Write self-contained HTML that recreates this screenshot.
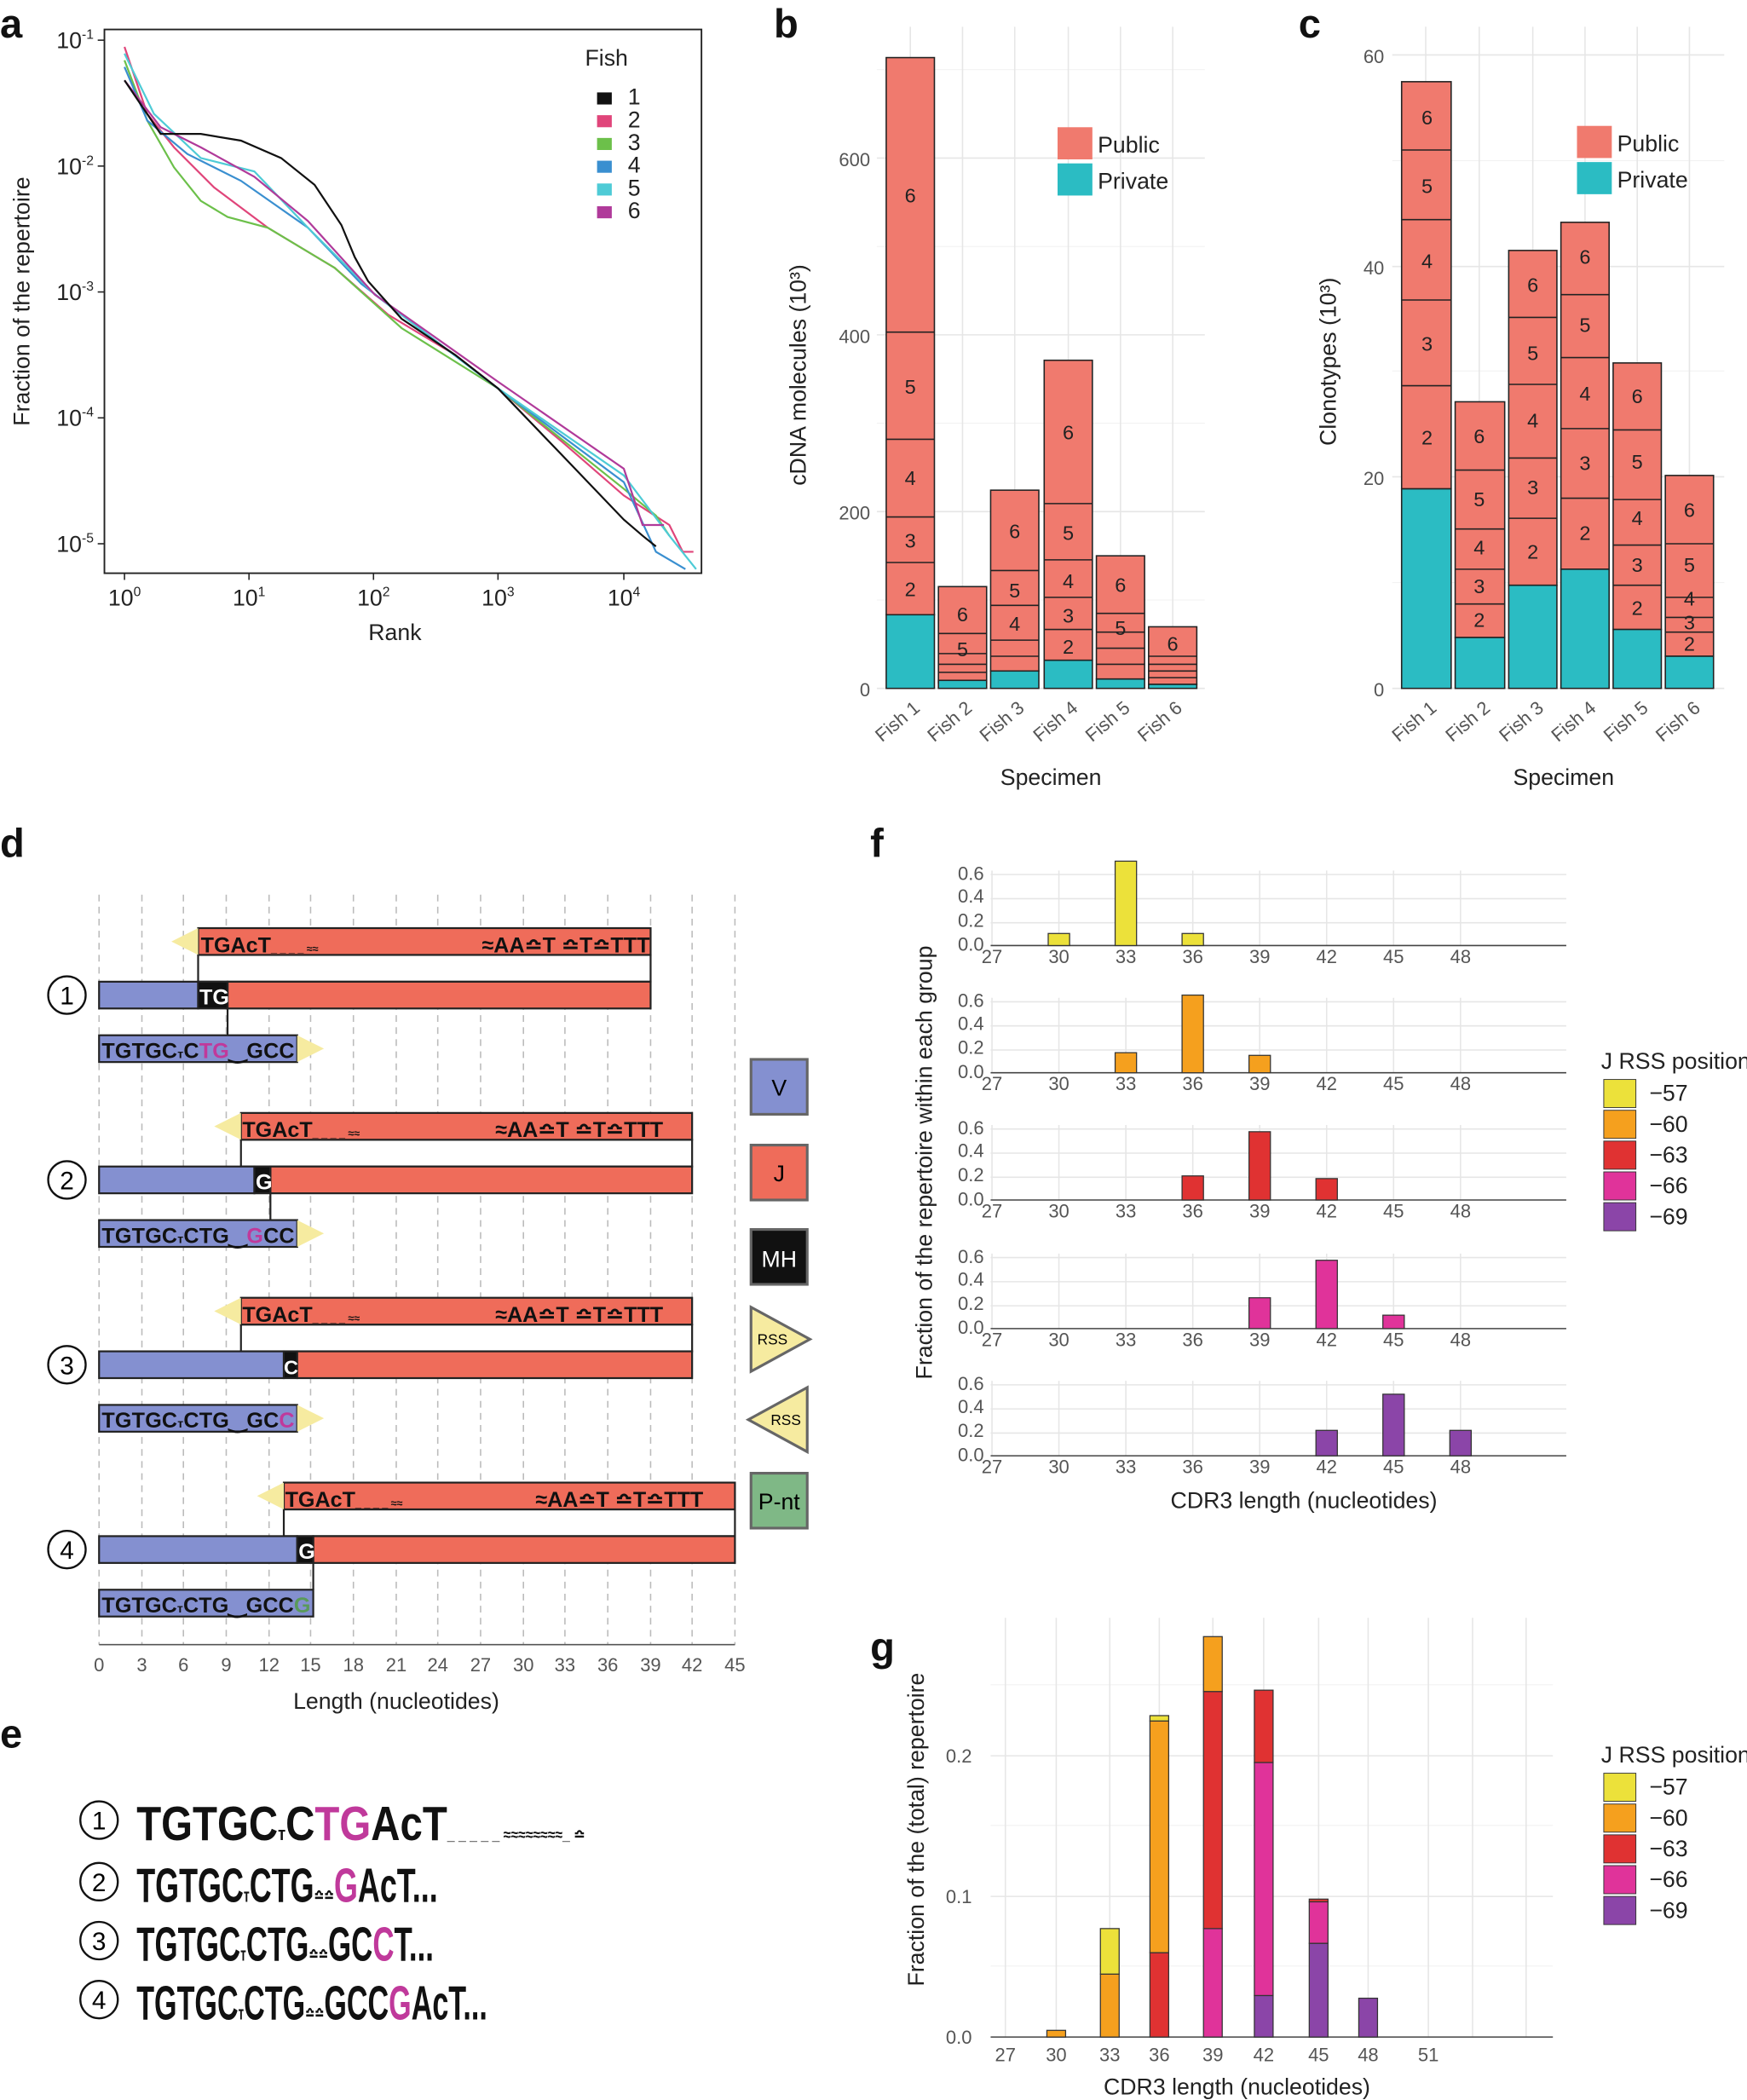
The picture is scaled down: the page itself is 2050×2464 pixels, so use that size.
<!DOCTYPE html>
<html><head><meta charset="utf-8"><style>
html,body{margin:0;padding:0;background:#fff;}
svg{display:block;font-family:"Liberation Sans",sans-serif;}
.t{font-size:14px;fill:#555}
.ax{font-size:17px;fill:#222}
.pl{font-size:30px;font-weight:bold;fill:#111}
.g{stroke:#e6e6e6;stroke-width:1}
.gm{stroke:#f2f2f2;stroke-width:0.7}
.dg{stroke:#bbb;stroke-width:1;stroke-dasharray:5,4}
.bl{font-size:15px;fill:#222;text-anchor:middle}
.lg{font-family:"Liberation Sans Narrow","Liberation Sans",sans-serif;font-weight:bold;fill:#111}
</style></head><body>
<svg width="2050" height="2464" viewBox="0 0 1305 1568" preserveAspectRatio="none">
<rect width="1305" height="1568" fill="#fff"/>
<!-- Panel a -->
<text x="0" y="28" class="pl">a</text>
<rect x="78" y="22" width="446" height="406" fill="none" stroke="#222" stroke-width="1.2"/>
<g class="ax" font-size="16" text-anchor="end">
<text x="70" y="36">10<tspan font-size="10" dy="-7">-1</tspan></text>
<text x="70" y="130">10<tspan font-size="10" dy="-7">-2</tspan></text>
<text x="70" y="224">10<tspan font-size="10" dy="-7">-3</tspan></text>
<text x="70" y="318">10<tspan font-size="10" dy="-7">-4</tspan></text>
<text x="70" y="412">10<tspan font-size="10" dy="-7">-5</tspan></text>
</g>
<g class="ax" font-size="16" text-anchor="middle">
<text x="93" y="452">10<tspan font-size="10" dy="-7">0</tspan></text>
<text x="186" y="452">10<tspan font-size="10" dy="-7">1</tspan></text>
<text x="279" y="452">10<tspan font-size="10" dy="-7">2</tspan></text>
<text x="372" y="452">10<tspan font-size="10" dy="-7">3</tspan></text>
<text x="466" y="452">10<tspan font-size="10" dy="-7">4</tspan></text>
</g>
<g stroke="#222"><line x1="93" y1="428" x2="93" y2="433"/><line x1="186" y1="428" x2="186" y2="433"/><line x1="279" y1="428" x2="279" y2="433"/><line x1="372" y1="428" x2="372" y2="433"/><line x1="466" y1="428" x2="466" y2="433"/>
<line x1="73" y1="30" x2="78" y2="30"/><line x1="73" y1="124" x2="78" y2="124"/><line x1="73" y1="218" x2="78" y2="218"/><line x1="73" y1="312" x2="78" y2="312"/><line x1="73" y1="406" x2="78" y2="406"/></g>
<text x="295" y="478" class="ax" text-anchor="middle" font-size="18">Rank</text>
<text transform="translate(22,225) rotate(-90)" class="ax" text-anchor="middle" font-size="18">Fraction of the repertoire</text>
<g fill="none" stroke-width="1.4">
<polyline stroke="#e0457a" points="93,35 110,85 130,110 160,140 200,170 250,200 290,235 340,265 372,290 420,330 466,370 500,392 510,412 518,412"/>
<polyline stroke="#6cc04a" points="93,45 110,90 130,125 150,150 170,162 200,170 250,200 300,245 372,290 466,365 490,385 500,400"/>
<polyline stroke="#3a8fd0" points="93,50 110,90 140,115 180,135 230,170 270,212 300,235 372,290 466,360 490,412 512,425"/>
<polyline stroke="#4ecbd6" points="93,40 115,85 150,118 190,128 230,170 280,220 372,290 466,355 500,400 520,425"/>
<polyline stroke="#b03a9a" points="93,60 120,95 150,110 190,132 230,165 280,220 372,285 466,350 480,392 496,392"/>
<polyline stroke="#111" points="93,60 120,100 150,100 180,105 210,118 235,138 255,168 265,192 275,210 300,238 340,265 372,290 420,340 466,388 480,400 490,408"/>
</g>
<text x="437" y="49" class="ax" font-size="18">Fish</text>
<g font-size="12" class="ax">
<rect x="446" y="69" width="11" height="9" fill="#111"/><text x="469" y="78">1</text>
<rect x="446" y="86" width="11" height="9" fill="#e0457a"/><text x="469" y="95">2</text>
<rect x="446" y="103" width="11" height="9" fill="#6cc04a"/><text x="469" y="112">3</text>
<rect x="446" y="120" width="11" height="9" fill="#3a8fd0"/><text x="469" y="129">4</text>
<rect x="446" y="137" width="11" height="9" fill="#4ecbd6"/><text x="469" y="146">5</text>
<rect x="446" y="154" width="11" height="9" fill="#b03a9a"/><text x="469" y="163">6</text>
</g>

<!-- Panel b -->
<text x="578" y="28" class="pl">b</text>
<g>
<line class="gm" x1="655" x2="900" y1="448" y2="448"/><line class="gm" x1="655" x2="900" y1="316" y2="316"/><line class="gm" x1="655" x2="900" y1="184" y2="184"/><line class="gm" x1="655" x2="900" y1="52" y2="52"/>
<line class="g" x1="655" x2="900" y1="514" y2="514"/><line class="g" x1="655" x2="900" y1="382" y2="382"/><line class="g" x1="655" x2="900" y1="250" y2="250"/><line class="g" x1="655" x2="900" y1="118" y2="118"/>
<line class="g" x1="680" x2="680" y1="20" y2="514"/><line class="g" x1="719" x2="719" y1="20" y2="514"/><line class="g" x1="758" x2="758" y1="20" y2="514"/><line class="g" x1="798" x2="798" y1="20" y2="514"/><line class="g" x1="837" x2="837" y1="20" y2="514"/><line class="g" x1="876" x2="876" y1="20" y2="514"/>
</g>
<g class="t" font-size="17" text-anchor="end"><text x="650" y="520">0</text><text x="650" y="388">200</text><text x="650" y="256">400</text><text x="650" y="124">600</text></g>
<text transform="translate(602,280) rotate(-90)" class="ax" text-anchor="middle" font-size="18">cDNA molecules (10³)</text>
<g stroke="#222" stroke-width="1">
<rect x="662" y="43" width="36" height="416" fill="#f07a6e"/><rect x="662" y="459" width="36" height="55" fill="#2bbcc3"/>
<line x1="662" x2="698" y1="420" y2="420"/><line x1="662" x2="698" y1="386" y2="386"/><line x1="662" x2="698" y1="328" y2="328"/><line x1="662" x2="698" y1="248" y2="248"/>
<rect x="701" y="438" width="36" height="72" fill="#f07a6e"/><rect x="701" y="508" width="36" height="6" fill="#2bbcc3"/>
<line x1="701" x2="737" y1="502" y2="502"/><line x1="701" x2="737" y1="496" y2="496"/><line x1="701" x2="737" y1="488" y2="488"/><line x1="701" x2="737" y1="473" y2="473"/>
<rect x="740" y="366" width="36" height="135" fill="#f07a6e"/><rect x="740" y="501" width="36" height="13" fill="#2bbcc3"/>
<line x1="740" x2="776" y1="490" y2="490"/><line x1="740" x2="776" y1="478" y2="478"/><line x1="740" x2="776" y1="452" y2="452"/><line x1="740" x2="776" y1="426" y2="426"/>
<rect x="780" y="269" width="36" height="224" fill="#f07a6e"/><rect x="780" y="493" width="36" height="21" fill="#2bbcc3"/>
<line x1="780" x2="816" y1="470" y2="470"/><line x1="780" x2="816" y1="446" y2="446"/><line x1="780" x2="816" y1="418" y2="418"/><line x1="780" x2="816" y1="376" y2="376"/>
<rect x="819" y="415" width="36" height="92" fill="#f07a6e"/><rect x="819" y="507" width="36" height="7" fill="#2bbcc3"/>
<line x1="819" x2="855" y1="496" y2="496"/><line x1="819" x2="855" y1="484" y2="484"/><line x1="819" x2="855" y1="472" y2="472"/><line x1="819" x2="855" y1="458" y2="458"/>
<rect x="858" y="468" width="36" height="43" fill="#f07a6e"/><rect x="858" y="511" width="36" height="3" fill="#2bbcc3"/>
<line x1="858" x2="894" y1="506" y2="506"/><line x1="858" x2="894" y1="501" y2="501"/><line x1="858" x2="894" y1="496" y2="496"/><line x1="858" x2="894" y1="490" y2="490"/>
</g>
<g class="bl"><text x="680" y="151">6</text><text x="680" y="294">5</text><text x="680" y="362">4</text><text x="680" y="409">3</text><text x="680" y="445">2</text>
<text x="719" y="464">6</text><text x="719" y="490">5</text>
<text x="758" y="402">6</text><text x="758" y="446">5</text><text x="758" y="471">4</text>
<text x="798" y="328">6</text><text x="798" y="403">5</text><text x="798" y="439">4</text><text x="798" y="465">3</text><text x="798" y="488">2</text>
<text x="837" y="442">6</text><text x="837" y="474">5</text><text x="876" y="486">6</text></g>
<rect x="790" y="95" width="26" height="24" fill="#f07a6e"/><rect x="790" y="122" width="26" height="24" fill="#2bbcc3"/>
<text x="820" y="114" class="ax" font-size="18">Public</text><text x="820" y="141" class="ax" font-size="18">Private</text>
<g class="t" font-size="16" text-anchor="end">
<text transform="translate(688,530) rotate(-40)">Fish 1</text><text transform="translate(727,530) rotate(-40)">Fish 2</text><text transform="translate(766,530) rotate(-40)">Fish 3</text><text transform="translate(806,530) rotate(-40)">Fish 4</text><text transform="translate(845,530) rotate(-40)">Fish 5</text><text transform="translate(884,530) rotate(-40)">Fish 6</text></g>
<text x="785" y="586" class="ax" text-anchor="middle" font-size="18">Specimen</text>

<!-- Panel c -->
<text x="970" y="28" class="pl">c</text>
<g>
<line class="gm" x1="1040" x2="1288" y1="435" y2="435"/><line class="gm" x1="1040" x2="1288" y1="277" y2="277"/><line class="gm" x1="1040" x2="1288" y1="120" y2="120"/>
<line class="g" x1="1040" x2="1288" y1="514" y2="514"/><line class="g" x1="1040" x2="1288" y1="356" y2="356"/><line class="g" x1="1040" x2="1288" y1="199" y2="199"/><line class="g" x1="1040" x2="1288" y1="41" y2="41"/>
<line class="g" x1="1065" x2="1065" y1="20" y2="514"/><line class="g" x1="1105" x2="1105" y1="20" y2="514"/><line class="g" x1="1145" x2="1145" y1="20" y2="514"/><line class="g" x1="1184" x2="1184" y1="20" y2="514"/><line class="g" x1="1223" x2="1223" y1="20" y2="514"/><line class="g" x1="1262" x2="1262" y1="20" y2="514"/>
</g>
<g class="t" font-size="17" text-anchor="end"><text x="1034" y="520">0</text><text x="1034" y="362">20</text><text x="1034" y="205">40</text><text x="1034" y="47">60</text></g>
<text transform="translate(998,270) rotate(-90)" class="ax" text-anchor="middle" font-size="18">Clonotypes (10³)</text>
<g stroke="#222" stroke-width="1">
<rect x="1047" y="61" width="37" height="304" fill="#f07a6e"/><rect x="1047" y="365" width="37" height="149" fill="#2bbcc3"/>
<line x1="1047" x2="1084" y1="288" y2="288"/><line x1="1047" x2="1084" y1="224" y2="224"/><line x1="1047" x2="1084" y1="164" y2="164"/><line x1="1047" x2="1084" y1="112" y2="112"/>
<rect x="1087" y="300" width="37" height="176" fill="#f07a6e"/><rect x="1087" y="476" width="37" height="38" fill="#2bbcc3"/>
<line x1="1087" x2="1124" y1="451" y2="451"/><line x1="1087" x2="1124" y1="425" y2="425"/><line x1="1087" x2="1124" y1="395" y2="395"/><line x1="1087" x2="1124" y1="351" y2="351"/>
<rect x="1127" y="187" width="36" height="250" fill="#f07a6e"/><rect x="1127" y="437" width="36" height="77" fill="#2bbcc3"/>
<line x1="1127" x2="1163" y1="387" y2="387"/><line x1="1127" x2="1163" y1="342" y2="342"/><line x1="1127" x2="1163" y1="287" y2="287"/><line x1="1127" x2="1163" y1="237" y2="237"/>
<rect x="1166" y="166" width="36" height="259" fill="#f07a6e"/><rect x="1166" y="425" width="36" height="89" fill="#2bbcc3"/>
<line x1="1166" x2="1202" y1="372" y2="372"/><line x1="1166" x2="1202" y1="320" y2="320"/><line x1="1166" x2="1202" y1="267" y2="267"/><line x1="1166" x2="1202" y1="220" y2="220"/>
<rect x="1205" y="271" width="36" height="199" fill="#f07a6e"/><rect x="1205" y="470" width="36" height="44" fill="#2bbcc3"/>
<line x1="1205" x2="1241" y1="437" y2="437"/><line x1="1205" x2="1241" y1="407" y2="407"/><line x1="1205" x2="1241" y1="373" y2="373"/><line x1="1205" x2="1241" y1="321" y2="321"/>
<rect x="1244" y="355" width="36" height="135" fill="#f07a6e"/><rect x="1244" y="490" width="36" height="24" fill="#2bbcc3"/>
<line x1="1244" x2="1280" y1="472" y2="472"/><line x1="1244" x2="1280" y1="461" y2="461"/><line x1="1244" x2="1280" y1="446" y2="446"/><line x1="1244" x2="1280" y1="406" y2="406"/>
</g>
<g class="bl"><text x="1066" y="93">6</text><text x="1066" y="144">5</text><text x="1066" y="200">4</text><text x="1066" y="262">3</text><text x="1066" y="332">2</text>
<text x="1105" y="331">6</text><text x="1105" y="378">5</text><text x="1105" y="414">4</text><text x="1105" y="443">3</text><text x="1105" y="468">2</text>
<text x="1145" y="218">6</text><text x="1145" y="269">5</text><text x="1145" y="319">4</text><text x="1145" y="369">3</text><text x="1145" y="417">2</text>
<text x="1184" y="197">6</text><text x="1184" y="248">5</text><text x="1184" y="299">4</text><text x="1184" y="351">3</text><text x="1184" y="403">2</text>
<text x="1223" y="301">6</text><text x="1223" y="350">5</text><text x="1223" y="392">4</text><text x="1223" y="427">3</text><text x="1223" y="459">2</text>
<text x="1262" y="386">6</text><text x="1262" y="427">5</text><text x="1262" y="452">4</text><text x="1262" y="470">3</text><text x="1262" y="486">2</text></g>
<rect x="1178" y="94" width="26" height="24" fill="#f07a6e"/><rect x="1178" y="121" width="26" height="24" fill="#2bbcc3"/>
<text x="1208" y="113" class="ax" font-size="18">Public</text><text x="1208" y="140" class="ax" font-size="18">Private</text>
<g class="t" font-size="16" text-anchor="end">
<text transform="translate(1074,530) rotate(-40)">Fish 1</text><text transform="translate(1114,530) rotate(-40)">Fish 2</text><text transform="translate(1154,530) rotate(-40)">Fish 3</text><text transform="translate(1193,530) rotate(-40)">Fish 4</text><text transform="translate(1232,530) rotate(-40)">Fish 5</text><text transform="translate(1271,530) rotate(-40)">Fish 6</text></g>
<text x="1168" y="586" class="ax" text-anchor="middle" font-size="18">Specimen</text>

<!-- Panel d -->
<text x="0" y="640" class="pl">d</text>
<g>
<line class="dg" x1="74" x2="74" y1="668" y2="1228"/><line class="dg" x1="106" x2="106" y1="668" y2="1228"/><line class="dg" x1="137" x2="137" y1="668" y2="1228"/><line class="dg" x1="169" x2="169" y1="668" y2="1228"/><line class="dg" x1="201" x2="201" y1="668" y2="1228"/><line class="dg" x1="232" x2="232" y1="668" y2="1228"/><line class="dg" x1="264" x2="264" y1="668" y2="1228"/><line class="dg" x1="296" x2="296" y1="668" y2="1228"/><line class="dg" x1="327" x2="327" y1="668" y2="1228"/><line class="dg" x1="359" x2="359" y1="668" y2="1228"/><line class="dg" x1="391" x2="391" y1="668" y2="1228"/><line class="dg" x1="422" x2="422" y1="668" y2="1228"/><line class="dg" x1="454" x2="454" y1="668" y2="1228"/><line class="dg" x1="486" x2="486" y1="668" y2="1228"/><line class="dg" x1="517" x2="517" y1="668" y2="1228"/><line class="dg" x1="549" x2="549" y1="668" y2="1228"/>
</g>
<line x1="74" x2="549" y1="1228" y2="1228" stroke="#555"/>
<g class="t" font-size="16" text-anchor="middle"><text x="74" y="1248">0</text><text x="106" y="1248">3</text><text x="137" y="1248">6</text><text x="169" y="1248">9</text><text x="201" y="1248">12</text><text x="232" y="1248">15</text><text x="264" y="1248">18</text><text x="296" y="1248">21</text><text x="327" y="1248">24</text><text x="359" y="1248">27</text><text x="391" y="1248">30</text><text x="422" y="1248">33</text><text x="454" y="1248">36</text><text x="486" y="1248">39</text><text x="517" y="1248">42</text><text x="549" y="1248">45</text></g>
<text x="296" y="1276" class="ax" text-anchor="middle" font-size="16">Length (nucleotides)</text>

<!-- group 1 -->
<g stroke="#222" stroke-width="1.4">
<rect x="148" y="713" width="338" height="20" fill="#fff"/>
<rect x="148" y="693" width="338" height="20" fill="#ef6c5a"/>
<polygon points="148,693 148,713 128,703" fill="#f6eba0" stroke="none"/>
<rect x="74" y="733" width="74" height="20" fill="#8490d0"/><rect x="148" y="733" width="22" height="20" fill="#111"/><rect x="170" y="733" width="316" height="20" fill="#ef6c5a"/>
<line x1="170" y1="733" x2="170" y2="773"/>
<rect x="74" y="773" width="148" height="20" fill="#8490d0"/>
<polygon points="222,773 222,793 242,783" fill="#f6eba0" stroke="none"/>
</g>
<text x="150" y="711" class="lg" font-size="16">TGAcT<tspan font-size="8">_ _ _ _ ≈≈</tspan></text><text x="360" y="711" class="lg" font-size="16">≈AA≏T ≏T≏TTT</text>
<text x="149" y="750" class="lg" font-size="16" fill="#fff" style="fill:#fff">TG</text>
<text x="76" y="790" class="lg" font-size="16" textLength="144">TGTGC<tspan font-size="9">ᴛ</tspan>C<tspan fill="#c0399b">TG</tspan>‿GCC</text>
<circle cx="50" cy="743" r="14" fill="none" stroke="#111" stroke-width="1.5"/><text x="50" y="750" text-anchor="middle" font-size="19">1</text>
<!-- group 2 -->
<g stroke="#222" stroke-width="1.4">
<rect x="180" y="851" width="337" height="20" fill="#fff"/>
<rect x="180" y="831" width="337" height="20" fill="#ef6c5a"/>
<polygon points="180,831 180,851 160,841" fill="#f6eba0" stroke="none"/>
<rect x="74" y="871" width="116" height="20" fill="#8490d0"/><rect x="190" y="871" width="12" height="20" fill="#111"/><rect x="202" y="871" width="315" height="20" fill="#ef6c5a"/>
<line x1="202" y1="871" x2="202" y2="911"/>
<rect x="74" y="911" width="148" height="20" fill="#8490d0"/>
<polygon points="222,911 222,931 242,921" fill="#f6eba0" stroke="none"/>
</g>
<text x="181" y="849" class="lg" font-size="16">TGAcT<tspan font-size="8">_ _ _ _ ≈≈</tspan></text><text x="370" y="849" class="lg" font-size="16">≈AA≏T ≏T≏TTT</text>
<text x="191" y="888" class="lg" font-size="16" style="fill:#fff">G</text>
<text x="76" y="928" class="lg" font-size="16" textLength="144">TGTGC<tspan font-size="9">ᴛ</tspan>CTG‿<tspan fill="#c0399b">G</tspan>CC</text>
<circle cx="50" cy="881" r="14" fill="none" stroke="#111" stroke-width="1.5"/><text x="50" y="888" text-anchor="middle" font-size="19">2</text>
<!-- group 3 -->
<g stroke="#222" stroke-width="1.4">
<rect x="180" y="989" width="337" height="20" fill="#fff"/>
<rect x="180" y="969" width="337" height="20" fill="#ef6c5a"/>
<polygon points="180,969 180,989 160,979" fill="#f6eba0" stroke="none"/>
<rect x="74" y="1009" width="138" height="20" fill="#8490d0"/><rect x="212" y="1009" width="10" height="20" fill="#111"/><rect x="222" y="1009" width="295" height="20" fill="#ef6c5a"/>
<rect x="74" y="1049" width="148" height="20" fill="#8490d0"/>
<polygon points="222,1049 222,1069 242,1059" fill="#f6eba0" stroke="none"/>
</g>
<text x="181" y="987" class="lg" font-size="16">TGAcT<tspan font-size="8">_ _ _ _ ≈≈</tspan></text><text x="370" y="987" class="lg" font-size="16">≈AA≏T ≏T≏TTT</text>
<text x="212" y="1026" class="lg" font-size="15" style="fill:#fff">C</text>
<text x="76" y="1066" class="lg" font-size="16" textLength="144">TGTGC<tspan font-size="9">ᴛ</tspan>CTG‿GC<tspan fill="#c0399b">C</tspan></text>
<circle cx="50" cy="1019" r="14" fill="none" stroke="#111" stroke-width="1.5"/><text x="50" y="1026" text-anchor="middle" font-size="19">3</text>
<!-- group 4 -->
<g stroke="#222" stroke-width="1.4">
<rect x="212" y="1127" width="337" height="20" fill="#fff"/>
<rect x="212" y="1107" width="337" height="20" fill="#ef6c5a"/>
<polygon points="212,1107 212,1127 192,1117" fill="#f6eba0" stroke="none"/>
<rect x="74" y="1147" width="148" height="20" fill="#8490d0"/><rect x="222" y="1147" width="12" height="20" fill="#111"/><rect x="234" y="1147" width="315" height="20" fill="#ef6c5a"/>
<line x1="234" y1="1147" x2="234" y2="1187"/>
<rect x="74" y="1187" width="160" height="20" fill="#8490d0"/>
</g>
<text x="213" y="1125" class="lg" font-size="16">TGAcT<tspan font-size="8">_ _ _ _ ≈≈</tspan></text><text x="400" y="1125" class="lg" font-size="16">≈AA≏T ≏T≏TTT</text>
<text x="223" y="1164" class="lg" font-size="16" style="fill:#fff">G</text>
<text x="76" y="1204" class="lg" font-size="16" textLength="156">TGTGC<tspan font-size="9">ᴛ</tspan>CTG‿GCC<tspan fill="#5a9a5a">G</tspan></text>
<circle cx="50" cy="1157" r="14" fill="none" stroke="#111" stroke-width="1.5"/><text x="50" y="1164" text-anchor="middle" font-size="19">4</text>
<!-- legend d -->
<g stroke="#666" stroke-width="2">
<rect x="561" y="791" width="42" height="41" fill="#8490d0"/>
<rect x="561" y="855" width="42" height="41" fill="#ef6c5a"/>
<rect x="561" y="918" width="42" height="41" fill="#111"/>
<polygon points="561,976 561,1024 605,1000" fill="#f6eba0"/>
<polygon points="603,1036 603,1084 559,1060" fill="#f6eba0"/>
<rect x="561" y="1100" width="42" height="41" fill="#7fb886"/>
</g>
<g text-anchor="middle" font-size="17"><text x="582" y="818">V</text><text x="582" y="882">J</text><text x="582" y="946" fill="#fff">MH</text><text x="577" y="1004" font-size="11">RSS</text><text x="587" y="1064" font-size="11">RSS</text><text x="582" y="1127">P-nt</text></g>

<!-- Panel e -->
<text x="0" y="1305" class="pl">e</text>
<g font-size="19"><circle cx="74" cy="1359" r="14" fill="none" stroke="#111" stroke-width="1.5"/><text x="74" y="1366" text-anchor="middle">1</text>
<circle cx="74" cy="1405" r="14" fill="none" stroke="#111" stroke-width="1.5"/><text x="74" y="1412" text-anchor="middle">2</text>
<circle cx="74" cy="1449" r="14" fill="none" stroke="#111" stroke-width="1.5"/><text x="74" y="1456" text-anchor="middle">3</text>
<circle cx="74" cy="1493" r="14" fill="none" stroke="#111" stroke-width="1.5"/><text x="74" y="1500" text-anchor="middle">4</text></g>
<g class="lg" font-size="36">
<text x="102" y="1374" textLength="335" lengthAdjust="spacingAndGlyphs">TGTGC<tspan font-size="14">ᴛ</tspan>C<tspan fill="#c0399b">TG</tspan>AcT<tspan font-size="12">_ _ _ _ _ ≈≈≈≈≈≈≈≈_ ≏</tspan></text>
<text x="102" y="1420" textLength="225" lengthAdjust="spacingAndGlyphs">TGTGC<tspan font-size="14">ᴛ</tspan>CTG<tspan font-size="14">≏≏</tspan><tspan fill="#c0399b">G</tspan>AcT...</text>
<text x="102" y="1464" textLength="222" lengthAdjust="spacingAndGlyphs">TGTGC<tspan font-size="14">ᴛ</tspan>CTG<tspan font-size="14">≏≏</tspan>GC<tspan fill="#c0399b">C</tspan>T...</text>
<text x="102" y="1508" textLength="262" lengthAdjust="spacingAndGlyphs">TGTGC<tspan font-size="14">ᴛ</tspan>CTG<tspan font-size="14">≏≏</tspan>GCC<tspan fill="#c0399b">G</tspan>AcT...</text>
</g>

<!-- Panel f -->
<text x="650" y="640" class="pl">f</text>
<g id="fgrid">
<!-- subplot grids -->
<g class="g">
<line x1="741" x2="741" y1="650" y2="706"/><line x1="791" x2="791" y1="650" y2="706"/><line x1="841" x2="841" y1="650" y2="706"/><line x1="891" x2="891" y1="650" y2="706"/><line x1="941" x2="941" y1="650" y2="706"/><line x1="991" x2="991" y1="650" y2="706"/><line x1="1041" x2="1041" y1="650" y2="706"/><line x1="1091" x2="1091" y1="650" y2="706"/>
<line x1="740" x2="1170" y1="653" y2="653"/><line x1="740" x2="1170" y1="671" y2="671"/><line x1="740" x2="1170" y1="689" y2="689"/>
</g>
</g>
<use href="#fgrid" y="95"/><use href="#fgrid" y="190"/><use href="#fgrid" y="286"/><use href="#fgrid" y="381"/>
<g id="faxis">
<line x1="740" x2="1170" y1="706" y2="706" stroke="#444"/>
<g class="t" font-size="13" text-anchor="end"><text x="735" y="710">0.0</text><text x="735" y="692">0.2</text><text x="735" y="674">0.4</text><text x="735" y="657">0.6</text></g>
<g class="t" font-size="13" text-anchor="middle"><text x="741" y="719">27</text><text x="791" y="719">30</text><text x="841" y="719">33</text><text x="891" y="719">36</text><text x="941" y="719">39</text><text x="991" y="719">42</text><text x="1041" y="719">45</text><text x="1091" y="719">48</text></g>
</g>
<use href="#faxis" y="95"/><use href="#faxis" y="190"/><use href="#faxis" y="286"/><use href="#faxis" y="381"/>
<g stroke="#333" stroke-width="0.8">
<rect x="783" y="697" width="16" height="9" fill="#ece13a"/><rect x="833" y="643" width="16" height="63" fill="#ece13a"/><rect x="883" y="697" width="16" height="9" fill="#ece13a"/>
<rect x="833" y="786" width="16" height="15" fill="#f5a01e"/><rect x="883" y="743" width="16" height="58" fill="#f5a01e"/><rect x="933" y="788" width="16" height="13" fill="#f5a01e"/>
<rect x="883" y="878" width="16" height="18" fill="#e03232"/><rect x="933" y="845" width="16" height="51" fill="#e03232"/><rect x="983" y="880" width="16" height="16" fill="#e03232"/>
<rect x="933" y="969" width="16" height="23" fill="#e0339a"/><rect x="983" y="941" width="16" height="51" fill="#e0339a"/><rect x="1033" y="982" width="16" height="10" fill="#e0339a"/>
<rect x="983" y="1068" width="16" height="19" fill="#8b45a8"/><rect x="1033" y="1041" width="16" height="46" fill="#8b45a8"/><rect x="1083" y="1068" width="16" height="19" fill="#8b45a8"/>
</g>
<text transform="translate(696,868) rotate(-90)" class="ax" text-anchor="middle" font-size="16">Fraction of the repertoire within each group</text>
<text x="974" y="1126" class="ax" text-anchor="middle" font-size="17">CDR3 length (nucleotides)</text>
<g id="leg">
<text x="1196" y="798" class="ax" font-size="16">J RSS position</text>
<g stroke="#333" stroke-width="0.6">
<rect x="1198" y="806" width="24" height="21" fill="#ece13a"/><rect x="1198" y="829" width="24" height="21" fill="#f5a01e"/><rect x="1198" y="852" width="24" height="21" fill="#e03232"/><rect x="1198" y="875" width="24" height="21" fill="#e0339a"/><rect x="1198" y="898" width="24" height="21" fill="#8b45a8"/></g>
<g class="ax" font-size="15"><text x="1232" y="822">−57</text><text x="1232" y="845">−60</text><text x="1232" y="868">−63</text><text x="1232" y="891">−66</text><text x="1232" y="914">−69</text></g>
</g>
<use href="#leg" y="518"/>

<!-- Panel g -->
<text x="650" y="1240" class="pl">g</text>
<g>
<line class="gm" x1="740" x2="1160" y1="1468" y2="1468"/><line class="gm" x1="740" x2="1160" y1="1363" y2="1363"/><line class="gm" x1="740" x2="1160" y1="1258" y2="1258"/>
<line class="g" x1="740" x2="1160" y1="1416" y2="1416"/><line class="g" x1="740" x2="1160" y1="1311" y2="1311"/>
<line class="g" x1="751" x2="751" y1="1208" y2="1521"/><line class="g" x1="789" x2="789" y1="1208" y2="1521"/><line class="g" x1="829" x2="829" y1="1208" y2="1521"/><line class="g" x1="866" x2="866" y1="1208" y2="1521"/><line class="g" x1="906" x2="906" y1="1208" y2="1521"/><line class="g" x1="944" x2="944" y1="1208" y2="1521"/><line class="g" x1="985" x2="985" y1="1208" y2="1521"/><line class="g" x1="1022" x2="1022" y1="1208" y2="1521"/><line class="g" x1="1067" x2="1067" y1="1208" y2="1521"/><line class="g" x1="1100" x2="1100" y1="1208" y2="1521"/><line class="g" x1="1140" x2="1140" y1="1208" y2="1521"/>
</g>
<line x1="740" x2="1160" y1="1521" y2="1521" stroke="#444"/>
<g class="t" font-size="15" text-anchor="end"><text x="726" y="1526">0.0</text><text x="726" y="1421">0.1</text><text x="726" y="1316">0.2</text></g>
<g class="t" font-size="15" text-anchor="middle"><text x="751" y="1539">27</text><text x="789" y="1539">30</text><text x="829" y="1539">33</text><text x="866" y="1539">36</text><text x="906" y="1539">39</text><text x="944" y="1539">42</text><text x="985" y="1539">45</text><text x="1022" y="1539">48</text><text x="1067" y="1539">51</text></g>
<g stroke="#333" stroke-width="0.8">
<rect x="782" y="1516" width="14" height="5" fill="#f5a01e"/>
<rect x="822" y="1474" width="14" height="47" fill="#f5a01e"/><rect x="822" y="1440" width="14" height="34" fill="#ece13a"/>
<rect x="859" y="1458" width="14" height="63" fill="#e03232"/><rect x="859" y="1285" width="14" height="173" fill="#f5a01e"/><rect x="859" y="1281" width="14" height="4" fill="#ece13a"/>
<rect x="899" y="1440" width="14" height="81" fill="#e0339a"/><rect x="899" y="1263" width="14" height="177" fill="#e03232"/><rect x="899" y="1222" width="14" height="41" fill="#f5a01e"/>
<rect x="937" y="1490" width="14" height="31" fill="#8b45a8"/><rect x="937" y="1316" width="14" height="174" fill="#e0339a"/><rect x="937" y="1262" width="14" height="54" fill="#e03232"/>
<rect x="978" y="1451" width="14" height="70" fill="#8b45a8"/><rect x="978" y="1420" width="14" height="31" fill="#e0339a"/><rect x="978" y="1418" width="14" height="2" fill="#e03232"/>
<rect x="1015" y="1492" width="14" height="29" fill="#8b45a8"/>
</g>
<text transform="translate(690,1366) rotate(-90)" class="ax" text-anchor="middle" font-size="16">Fraction of the (total) repertoire</text>
<text x="924" y="1564" class="ax" text-anchor="middle" font-size="17">CDR3 length (nucleotides)</text>
</svg>
</body></html>
